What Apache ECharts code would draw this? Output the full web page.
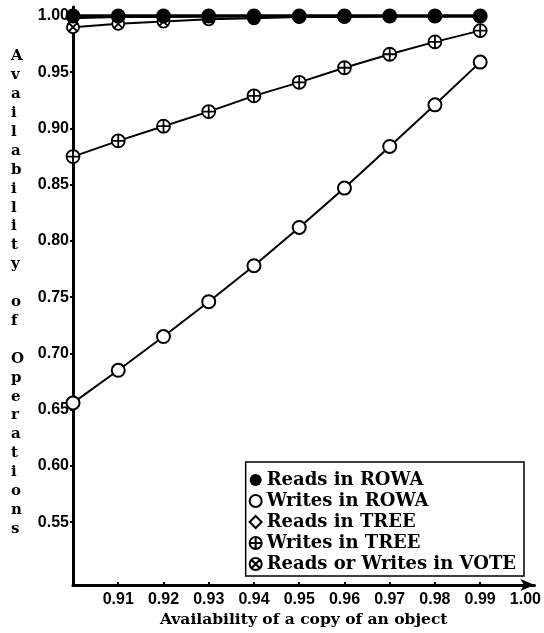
<!DOCTYPE html>
<html>
<head>
<meta charset="utf-8">
<script src="https://cdn.jsdelivr.net/npm/echarts@6/dist/echarts.min.js"></script>
<style>html,body{margin:0;padding:0;background:#fff;}#c{width:544px;height:633px;}</style>
</head>
<body>
<div id="c"></div>
<script>
const copyAvail = [0.90, 0.91, 0.92, 0.93, 0.94, 0.95, 0.96, 0.97, 0.98, 0.99];
const readsROWA = [1.000, 1.000, 1.000, 1.000, 1.000, 1.000, 1.000, 1.000, 1.000, 1.000];
const writesROWA = [0.656, 0.685, 0.715, 0.746, 0.778, 0.812, 0.847, 0.884, 0.921, 0.959];
const readsTREE = [0.998, 0.999, 0.999, 1.000, 1.000, 1.000, 1.000, 1.000, 1.000, 1.000];
const writesTREE = [0.875, 0.889, 0.902, 0.915, 0.929, 0.941, 0.954, 0.966, 0.977, 0.987];
const voteRW = [0.990, 0.993, 0.995, 0.997, 0.998, 0.999, 0.999, 1.000, 1.000, 1.000];
const xTicks = [0.91, 0.92, 0.93, 0.94, 0.95, 0.96, 0.97, 0.98, 0.99, 1.00];
const yTicks = [0.55, 0.60, 0.65, 0.70, 0.75, 0.80, 0.85, 0.90, 0.95, 1.00];
const yTitle = 'Availability of Operations';
const xTitle = 'Availability of a copy of an object';

const pair = arr => copyAvail.map((x, i) => [x, arr[i]]);
const plusPath = 'path://M0,-10A10,10,0,1,1,0,10A10,10,0,1,1,0,-10Z M-10,0L10,0M0,-10L0,10';
const crossPath = 'path://M0,-10A10,10,0,1,1,0,10A10,10,0,1,1,0,-10Z M-7.07,-7.07L7.07,7.07M-7.07,7.07L7.07,-7.07';

const serif = '"DejaVu Serif", serif';
const sans = '"Liberation Sans", Arial, sans-serif';
const chart = echarts.init(document.getElementById('c'));
chart.setOption({
  animation: false,
  backgroundColor: '#fff',
  grid: { left: 73, right: 8, top: 7, bottom: 44 },
  xAxis: {
    type: 'value', min: 0.90, max: 1.002,
    name: xTitle, nameLocation: 'middle', nameGap: 26,
    nameTextStyle: { fontFamily: serif, fontWeight: 'bold', fontSize: 15.5, color: '#000' },
    axisLine: { show: true, symbol: ['none', 'arrow'], symbolSize: [9, 14], lineStyle: { color: '#000', width: 3 } },
    axisTick: { show: true, inside: true, length: 3, customValues: xTicks, lineStyle: { color: '#000', width: 2 } },
    axisLabel: { customValues: xTicks, formatter: v => v.toFixed(2), margin: 6,
      fontFamily: sans, fontWeight: 'bold', fontSize: 16, color: '#000' },
    splitLine: { show: false }
  },
  yAxis: {
    type: 'value', min: 0.494, max: 1.008,
    axisLine: { show: true, lineStyle: { color: '#000', width: 3 } },
    axisTick: { show: true, length: 3, customValues: yTicks, lineStyle: { color: '#000', width: 2 } },
    axisLabel: { customValues: yTicks, formatter: v => v.toFixed(2), margin: 4,
      fontFamily: sans, fontWeight: 'bold', fontSize: 16, color: '#000' },
    splitLine: { show: false }
  },
  legend: {
    orient: 'vertical', right: 20, bottom: 57,
    borderColor: '#000', borderWidth: 1.5, padding: [9, 8, 3, 3],
    itemWidth: 12, itemHeight: 12, itemGap: 3, selectedMode: false,
    textStyle: { fontFamily: serif, fontWeight: 'bold', fontSize: 18, color: '#000' },
    data: [
      { name: 'Reads in ROWA', icon: 'circle' },
      { name: 'Writes in ROWA', icon: 'circle' },
      { name: 'Reads in TREE', icon: 'diamond' },
      { name: 'Writes in TREE', icon: plusPath },
      { name: 'Reads or Writes in VOTE', icon: crossPath }
    ]
  },
  graphic: [{
    type: 'text', left: 11, top: 47,
    style: { text: yTitle.split('').join('\n'), fontFamily: serif, fontWeight: 'bold', fontSize: 15,
      lineHeight: 18.9, fill: '#000', align: 'center' }
  }],
  series: [
    { name: 'Writes in ROWA', type: 'line', data: pair(writesROWA), clip: false,
      symbol: 'circle', symbolSize: 13, lineStyle: { color: '#000', width: 2 },
      itemStyle: { color: '#fff', borderColor: '#000', borderWidth: 2 } },
    { name: 'Writes in TREE', type: 'line', data: pair(writesTREE), clip: false,
      symbol: plusPath, symbolSize: 13, lineStyle: { color: '#000', width: 2 },
      itemStyle: { color: '#fff', borderColor: '#000', borderWidth: 1.8 } },
    { name: 'Reads or Writes in VOTE', type: 'line', data: pair(voteRW), clip: false,
      symbol: crossPath, symbolSize: 12, lineStyle: { color: '#000', width: 2 },
      itemStyle: { color: '#fff', borderColor: '#000', borderWidth: 1.8 } },
    { name: 'Reads in TREE', type: 'line', data: pair(readsTREE), clip: false,
      symbol: 'diamond', symbolSize: 7, lineStyle: { color: '#000', width: 2 },
      itemStyle: { color: '#fff', borderColor: '#000', borderWidth: 1.4 } },
    { name: 'Reads in ROWA', type: 'line', data: pair(readsROWA), clip: false, z: 5,
      symbol: 'circle', symbolSize: 15, lineStyle: { color: '#000', width: 3.5 },
      itemStyle: { color: '#000', borderColor: '#000', borderWidth: 0 } }
  ]
});
</script>
</body>
</html>
